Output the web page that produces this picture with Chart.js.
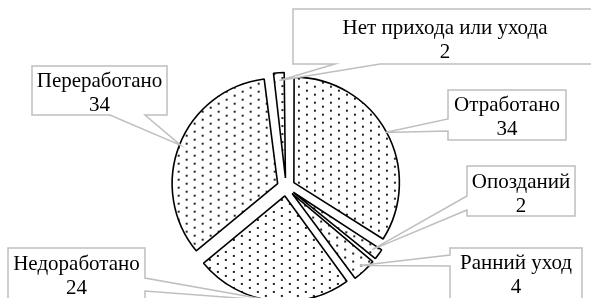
<!DOCTYPE html>
<html>
<head>
<meta charset="utf-8">
<script src="https://cdn.jsdelivr.net/npm/chart.js@4"></script>
<style>
  html, body { margin: 0; padding: 0; background: #fff; }
</style>
</head>
<body>
<canvas id="pieChart" width="591" height="298"></canvas>
<script>
// Data
const categories = ['Отработано', 'Опозданий', 'Ранний уход', 'Недоработано', 'Переработано', 'Нет прихода или ухода'];
const values = [34, 2, 4, 24, 34, 2];

// Callout boxes (layout only), same order as categories
const labelBoxes = [
    { x: 448, y: 90, w: 118, h: 50, ty: 111, side: 'left', a1: 119, a2: 131 },
    { x: 467, y: 166, w: 108, h: 50, ty: 188, side: 'left', a1: 196, a2: 210 },
    { x: 450, y: 248, w: 132, h: 60, ty: 269, side: 'left', a1: 255, a2: 266 },
    { x: 8, y: 248, w: 137, h: 60, ty: 270, side: 'right', a1: 278, a2: 291 },
    { x: 32, y: 66, w: 135, h: 49, ty: 87, side: 'bottom', a1: 110, a2: 145 },
    { x: 293, y: 9, w: 304, h: 55, ty: 34, side: 'bottom', a1: 335, a2: 380 }
];

const OFFSET = 36;   // arc offset (translation is offset / 4)
const FONT = '21px "Liberation Serif", "Times New Roman", serif';

// Dotted fill like the Excel 5% pattern
function makeDots() {
    const c = document.createElement('canvas');
    c.width = 16;
    c.height = 8;
    const g = c.getContext('2d');
    g.fillStyle = '#fff';
    g.fillRect(0, 0, 16, 8);
    g.fillStyle = '#222';
    g.fillRect(2, 2, 2, 2);
    g.fillRect(10, 6, 2, 2);
    return g.createPattern(c, 'repeat');
}

// Chart.js grows small exploded arcs; keep all slices at the same radius
const radiusFix = {
    id: 'radiusFix',
    beforeDatasetsDraw(chart) {
        const meta = chart.getDatasetMeta(0);
        const R = meta.controller.outerRadius;
        meta.data.forEach(arc => {
            const circ = arc.endAngle - arc.startAngle;
            const fix = 1 - Math.sin(Math.min(Math.PI, circ));
            arc.outerRadius = R - (OFFSET / 4) * fix;
        });
    }
};

function calloutPath(ctx, b, tip) {
    const x0 = b.x, y0 = b.y, x1 = b.x + b.w, y1 = b.y + b.h;
    ctx.beginPath();
    ctx.moveTo(x0, y0);
    ctx.lineTo(x1, y0);
    if (b.side === 'right') {
        ctx.lineTo(x1, b.a1);
        ctx.lineTo(tip.x, tip.y);
        ctx.lineTo(x1, b.a2);
    }
    ctx.lineTo(x1, y1);
    if (b.side === 'bottom') {
        ctx.lineTo(b.a2, y1);
        ctx.lineTo(tip.x, tip.y);
        ctx.lineTo(b.a1, y1);
    }
    ctx.lineTo(x0, y1);
    if (b.side === 'left') {
        ctx.lineTo(x0, b.a2);
        ctx.lineTo(tip.x, tip.y);
        ctx.lineTo(x0, b.a1);
    }
    ctx.closePath();
}

const callouts = {
    id: 'callouts',
    afterDatasetsDraw(chart) {
        const ctx = chart.ctx;
        const meta = chart.getDatasetMeta(0);
        const t = OFFSET / 4;
        ctx.save();
        meta.data.forEach((arc, i) => {
            const b = labelBoxes[i];
            const mid = (arc.startAngle + arc.endAngle) / 2;
            const r = arc.outerRadius + t;
            const tip = { x: arc.x + Math.cos(mid) * r, y: arc.y + Math.sin(mid) * r };
            calloutPath(ctx, b, tip);
            ctx.fillStyle = '#fff';
            ctx.fill();
            ctx.strokeStyle = '#bfbfbf';
            ctx.lineWidth = 1.5;
            ctx.stroke();

            ctx.fillStyle = '#000';
            ctx.font = FONT;
            ctx.textAlign = 'center';
            ctx.textBaseline = 'alphabetic';
            const cx = b.x + b.w / 2;
            ctx.fillText(categories[i], cx, b.ty);
            ctx.fillText(String(values[i]), cx, b.ty + 24);
        });
        ctx.restore();
    }
};

document.addEventListener('DOMContentLoaded', () => {
    const ctx = document.getElementById('pieChart').getContext('2d');
    new Chart(ctx, {
        type: 'pie',
        data: {
            labels: categories,
            datasets: [{
                data: values,
                backgroundColor: makeDots(),
                borderColor: '#000',
                borderWidth: 1.6,
                offset: OFFSET
            }]
        },
        options: {
            responsive: false,
            animation: false,
            radius: 105.5,
            layout: { padding: { top: 76, bottom: 0, left: 0, right: 19 } },
            plugins: {
                legend: { display: false },
                tooltip: { enabled: false }
            }
        },
        plugins: [radiusFix, callouts]
    });
});
</script>
</body>
</html>
